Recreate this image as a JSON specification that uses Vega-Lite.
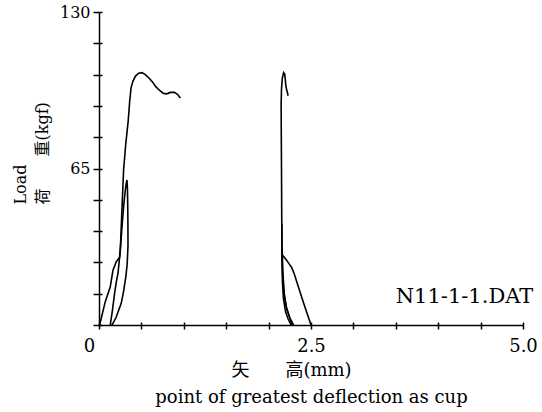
{
  "$schema": "https://vega.github.io/schema/vega-lite/v6.json",
  "width": 424,
  "height": 313,
  "autosize": "none",
  "padding": {"left": 99, "top": 12, "right": 19, "bottom": 87},
  "background": "white",
  "config": {
    "view": {"stroke": null},
    "axis": {
      "grid": false,
      "domainColor": "black",
      "tickColor": "black",
      "labelColor": "black",
      "titleColor": "black",
      "labelFont": "DejaVu Serif",
      "titleFont": "DejaVu Serif, Noto Sans CJK SC",
      "titleFontWeight": "normal"
    }
  },
  "datasets": {
    "curves": [
      {"s": "a", "i": 0, "x": 0.007, "y": 0},
      {"s": "a", "i": 1, "x": 0.074, "y": 9.7},
      {"s": "a", "i": 2, "x": 0.133, "y": 15.9},
      {"s": "a", "i": 3, "x": 0.165, "y": 22.8},
      {"s": "a", "i": 4, "x": 0.204, "y": 26.3},
      {"s": "a", "i": 5, "x": 0.243, "y": 28.1},
      {"s": "a", "i": 6, "x": 0.251, "y": 31},
      {"s": "a", "i": 7, "x": 0.27, "y": 47.5},
      {"s": "a", "i": 8, "x": 0.29, "y": 64.4},
      {"s": "a", "i": 9, "x": 0.315, "y": 75},
      {"s": "a", "i": 10, "x": 0.345, "y": 85},
      {"s": "a", "i": 11, "x": 0.362, "y": 93},
      {"s": "a", "i": 12, "x": 0.378, "y": 98.5},
      {"s": "a", "i": 13, "x": 0.4, "y": 101.2},
      {"s": "a", "i": 14, "x": 0.43, "y": 103.4},
      {"s": "a", "i": 15, "x": 0.467, "y": 104.6},
      {"s": "a", "i": 16, "x": 0.507, "y": 104.8},
      {"s": "a", "i": 17, "x": 0.55, "y": 103.9},
      {"s": "a", "i": 18, "x": 0.6, "y": 102.2},
      {"s": "a", "i": 19, "x": 0.64, "y": 100.5},
      {"s": "a", "i": 20, "x": 0.67, "y": 99},
      {"s": "a", "i": 21, "x": 0.715, "y": 97.4},
      {"s": "a", "i": 22, "x": 0.76, "y": 96.2},
      {"s": "a", "i": 23, "x": 0.8, "y": 96.0},
      {"s": "a", "i": 24, "x": 0.841, "y": 96.6},
      {"s": "a", "i": 25, "x": 0.89, "y": 96.6},
      {"s": "a", "i": 26, "x": 0.925, "y": 95.8},
      {"s": "a", "i": 27, "x": 0.96, "y": 94.3},
      {"s": "b", "i": 0, "x": 0.133, "y": 0},
      {"s": "b", "i": 1, "x": 0.16, "y": 6.5},
      {"s": "b", "i": 2, "x": 0.184, "y": 13.2},
      {"s": "b", "i": 3, "x": 0.205, "y": 18},
      {"s": "b", "i": 4, "x": 0.224, "y": 21.5},
      {"s": "b", "i": 5, "x": 0.24, "y": 27},
      {"s": "b", "i": 6, "x": 0.255, "y": 33},
      {"s": "b", "i": 7, "x": 0.272, "y": 41},
      {"s": "b", "i": 8, "x": 0.29, "y": 49.1},
      {"s": "b", "i": 9, "x": 0.31, "y": 56},
      {"s": "b", "i": 10, "x": 0.322, "y": 59},
      {"s": "b", "i": 11, "x": 0.33, "y": 60.2},
      {"s": "b", "i": 12, "x": 0.335, "y": 57},
      {"s": "b", "i": 13, "x": 0.338, "y": 51.9},
      {"s": "b", "i": 14, "x": 0.341, "y": 42},
      {"s": "b", "i": 15, "x": 0.342, "y": 33},
      {"s": "b", "i": 16, "x": 0.332, "y": 25},
      {"s": "b", "i": 17, "x": 0.316, "y": 20},
      {"s": "b", "i": 18, "x": 0.29, "y": 14},
      {"s": "b", "i": 19, "x": 0.262, "y": 9},
      {"s": "b", "i": 20, "x": 0.2, "y": 3},
      {"s": "b", "i": 21, "x": 0.153, "y": 0},
      {"s": "c", "i": 0, "x": 2.276, "y": 0},
      {"s": "c", "i": 1, "x": 2.24, "y": 4},
      {"s": "c", "i": 2, "x": 2.21, "y": 7.5},
      {"s": "c", "i": 3, "x": 2.185, "y": 12},
      {"s": "c", "i": 4, "x": 2.17, "y": 17},
      {"s": "c", "i": 5, "x": 2.162, "y": 24},
      {"s": "c", "i": 6, "x": 2.158, "y": 30},
      {"s": "c", "i": 7, "x": 2.155, "y": 45},
      {"s": "c", "i": 8, "x": 2.152, "y": 65},
      {"s": "c", "i": 9, "x": 2.149, "y": 82},
      {"s": "c", "i": 10, "x": 2.148, "y": 92},
      {"s": "c", "i": 11, "x": 2.152, "y": 98},
      {"s": "c", "i": 12, "x": 2.162, "y": 102.5},
      {"s": "c", "i": 13, "x": 2.177, "y": 104.8},
      {"s": "c", "i": 14, "x": 2.19, "y": 104.2},
      {"s": "c", "i": 15, "x": 2.197, "y": 102},
      {"s": "c", "i": 16, "x": 2.203, "y": 99.5},
      {"s": "c", "i": 17, "x": 2.212, "y": 97.8},
      {"s": "c", "i": 18, "x": 2.22, "y": 96.8},
      {"s": "c", "i": 19, "x": 2.23, "y": 95.2},
      {"s": "d1", "i": 0, "x": 2.156, "y": 42},
      {"s": "d1", "i": 1, "x": 2.158, "y": 28},
      {"s": "d1", "i": 2, "x": 2.163, "y": 18},
      {"s": "d1", "i": 3, "x": 2.175, "y": 11},
      {"s": "d1", "i": 4, "x": 2.2, "y": 5.5},
      {"s": "d1", "i": 5, "x": 2.23, "y": 2.5},
      {"s": "d1", "i": 6, "x": 2.265, "y": 0},
      {"s": "d2", "i": 0, "x": 2.16, "y": 32},
      {"s": "d2", "i": 1, "x": 2.168, "y": 22},
      {"s": "d2", "i": 2, "x": 2.185, "y": 13},
      {"s": "d2", "i": 3, "x": 2.21, "y": 7},
      {"s": "d2", "i": 4, "x": 2.25, "y": 3},
      {"s": "d2", "i": 5, "x": 2.295, "y": 0},
      {"s": "e", "i": 0, "x": 2.165, "y": 29},
      {"s": "e", "i": 1, "x": 2.177, "y": 28.4},
      {"s": "e", "i": 2, "x": 2.21, "y": 27},
      {"s": "e", "i": 3, "x": 2.24, "y": 25.5},
      {"s": "e", "i": 4, "x": 2.27, "y": 24},
      {"s": "e", "i": 5, "x": 2.3, "y": 21.5},
      {"s": "e", "i": 6, "x": 2.35, "y": 16},
      {"s": "e", "i": 7, "x": 2.4, "y": 10.5},
      {"s": "e", "i": 8, "x": 2.45, "y": 5.2},
      {"s": "e", "i": 9, "x": 2.5, "y": 0}
    ],
    "note": [{"x": 4.31, "y": 11.6, "label": "N11-1-1.DAT"}]
  },
  "layer": [
    {
      "data": {"name": "curves"},
      "mark": {"type": "line", "color": "black", "strokeWidth": 1.6},
      "encoding": {
        "x": {
          "field": "x", "type": "quantitative",
          "scale": {"domain": [0, 5], "nice": false},
          "axis": {
            "orient": "bottom",
            "values": [0, 0.5, 1, 1.5, 2, 2.5, 3, 3.5, 4, 4.5, 5],
            "labelExpr": "datum.value == 0 ? '0' : datum.value == 2.5 ? '2.5' : datum.value == 5 ? '5.0' : ''",
            "labelFlush": false,
            "labelOverlap": false,
            "labelFontSize": 18,
            "labelPadding": 8,
            "labelOffset": {"condition": {"test": "datum.value == 0", "value": -10}, "value": 0},
            "domainWidth": 1.5,
            "tickSize": 4,
            "tickWidth": 1.5,
            "title": ["矢\u3000\u3000高(mm)\u00a0\u00a0\u00a0\u00a0\u00a0\u00a0\u00a0\u200b", "point of greatest deflection as cup"],
            "titleFontSize": 18,
            "titleLineHeight": 27,
            "titleBaseline": "top",
            "titleY": 36
          }
        },
        "y": {
          "field": "y", "type": "quantitative",
          "scale": {"domain": [0, 130], "nice": false},
          "axis": {
            "orient": "left",
            "values": [0, 13, 26, 39, 52, 65, 78, 91, 104, 117, 130],
            "labelExpr": "datum.value == 65 || datum.value == 130 ? datum.label : ''",
            "labelOverlap": false,
            "labelFlush": false,
            "labelFontSize": 16,
            "labelPadding": 3,
            "domainWidth": 1.5,
            "tickSize": 6,
            "tickWidth": 1.5,
            "title": ["Load", "荷\u3000\u3000重(kgf)"],
            "titleFontSize": 16,
            "titleLineHeight": 22,
            "titleAngle": -90,
            "titleAlign": "left",
            "titleBaseline": "middle",
            "titleX": -79,
            "titleY": 192
          }
        },
        "detail": {"field": "s"},
        "order": {"field": "i"}
      }
    },
    {
      "data": {"name": "note"},
      "mark": {"type": "text", "font": "DejaVu Serif", "fontSize": 21, "color": "black", "align": "center", "baseline": "middle"},
      "encoding": {
        "x": {
          "field": "x", "type": "quantitative",
          "axis": {
            "orient": "bottom",
            "values": [0, 0.5, 1, 1.5, 2, 2.5, 3, 3.5, 4, 4.5, 5],
            "labels": false, "domain": false, "title": null,
            "tickSize": -3, "tickWidth": 1.5
          }
        },
        "y": {
          "field": "y", "type": "quantitative",
          "axis": {
            "orient": "left",
            "values": [0, 13, 26, 39, 52, 65, 78, 91, 104, 117, 130],
            "labels": false, "domain": false, "title": null,
            "tickSize": -3, "tickWidth": 1.5
          }
        },
        "text": {"field": "label"}
      }
    }
  ],
  "resolve": {"axis": {"x": "independent", "y": "independent"}}
}
